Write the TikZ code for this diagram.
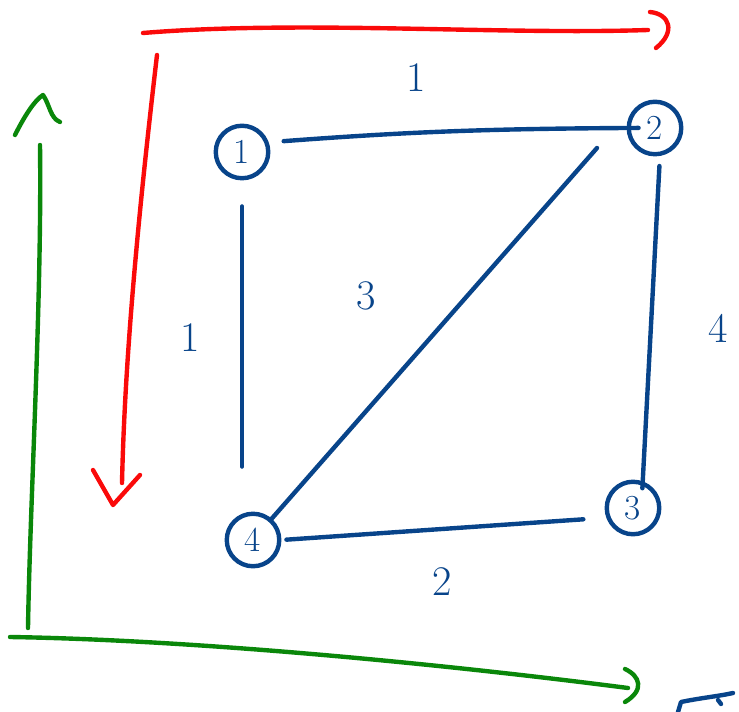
\documentclass[tikz,border=0pt]{standalone}
\usepackage{tikz}
\definecolor{encre}{RGB}{8,68,138}
\definecolor{vert}{RGB}{10,135,10}
\definecolor{rougevif}{RGB}{250,10,10}
\begin{document}
\begin{tikzpicture}[x=0.02cm,y=-0.02cm,line cap=round,line join=round]
\tikzstyle{sommet} = [draw=encre,circle,line width=2.5pt,minimum size=1.05cm,inner sep=0pt,text=encre,font=\fontsize{20}{22}\selectfont];
\tikzstyle{arete} = [draw=encre,line width=2.5pt];
\tikzstyle{poids} = [text=encre,font=\fontsize{24}{28}\selectfont];
\tikzstyle{fleche} = [line width=2.5pt];

\useasboundingbox (0,0) rectangle (739,712);

% sommets
\node[sommet] (n1) at (242,152) {1};
\node[sommet] (n2) at (655,128) {2};
\node[sommet] (n3) at (633,508) {3};
\node[sommet] (n4) at (253,540) {4};
\coordinate (d2) at (597,148);

% aretes
\draw[arete,shorten <=0.3cm,shorten >=-0.24cm] (n1.20) to[bend left=2] (n2.west);
\draw[arete,shorten <=0.52cm,shorten >=0.9cm] (n1.south) -- (n1.south |- n4.north);
\draw[arete] (d2) -- (n4);
\draw[arete,shorten <=0.2cm,shorten >=-0.14cm] (n2.-80) -- (n3.70);
\draw[arete,shorten <=0.1cm,shorten >=0.46cm] (n4.east) -- (n3.200);

% poids
\node[poids] (p12) at (416,78) {1};
\node[poids] (p14) at (190,338) {1};
\node[poids] (p24) at (366,296) {3};
\node[poids] (p23) at (718,328) {4};
\node[poids] (p43) at (442,582) {2};

% fleches rouges
\draw[fleche,rougevif] (143,33) .. controls (300,20) and (500,35) .. (648,30);
\draw[fleche,rougevif] (650,12) .. controls (670,14) and (676,32) .. (656,48);
\draw[fleche,rougevif] (157,55) .. controls (140,200) and (125,350) .. (122,483);
\draw[fleche,rougevif] (93,470) -- (113,505) -- (140,475);

% fleches vertes
\draw[fleche,vert] (40,145) .. controls (42,300) and (30,500) .. (28,628);
\draw[fleche,vert] (15,135) .. controls (25,115) and (35,100) .. (43,95) .. controls (50,105) and (50,118) .. (60,122);
\draw[fleche,vert] (10,637) .. controls (200,640) and (450,665) .. (628,688);
\draw[fleche,vert] (625,669) .. controls (640,676) and (645,690) .. (625,702);

% trait en bas a droite
\draw[fleche,encre] (678,712) -- (681,702) .. controls (700,698) and (720,696) .. (733,693);
\draw[fleche,encre] (718,700) -- (721,704);
\end{tikzpicture}
\end{document}
